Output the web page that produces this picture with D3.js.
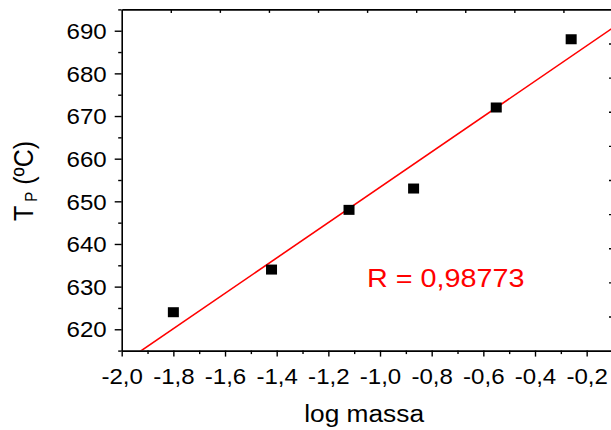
<!DOCTYPE html>
<html>
<head>
<meta charset="utf-8">
<script src="https://cdn.jsdelivr.net/npm/d3@7/dist/d3.min.js"></script>
<style>
  html, body { margin: 0; padding: 0; background: #fff; }
  svg { display: block; }
  text { font-family: "Liberation Sans", Arial, sans-serif; }
</style>
</head>
<body>
<svg id="chart" width="611" height="430"></svg>
<script>
// Peak temperature vs. log of sample mass
const logMassa = [-1.80, -1.42, -1.12, -0.87, -0.55, -0.26];
const tempPico = [624, 634, 648, 653, 672, 688];

const xTickValues = [-2.0, -1.8, -1.6, -1.4, -1.2, -1.0, -0.8, -0.6, -0.4, -0.2];
const xMinorValues = [-1.9, -1.7, -1.5, -1.3, -1.1, -0.9, -0.7, -0.5, -0.3, -0.1];
const yTickValues = [620, 630, 640, 650, 660, 670, 680, 690];
const yMinorValues = [615, 625, 635, 645, 655, 665, 675, 685, 695];
const xDomain = [-2.0, -0.1];
const yDomain = [615, 695];

const rValue = 0.98773;
const xTitle = "log massa";

const svg = d3.select("#chart");
const plotLeft = 121.7, plotRight = 612.5, plotTop = 9.4, plotBottom = 350.6;
const stretch = 1.12;

const x = d3.scaleLinear().domain(xDomain).range([plotLeft, plotRight]);
const y = d3.scaleLinear().domain(yDomain).range([plotBottom, plotTop]);

const locale = d3.formatLocale({ decimal: ",", thousands: ".", grouping: [3], currency: ["", ""], minus: "-" });
const fmt1 = locale.format(".1f");
const fmtR = locale.format(".5f");

// least-squares fit through the points
const mx = d3.mean(logMassa), my = d3.mean(tempPico);
const sxy = d3.sum(logMassa, (v, i) => (v - mx) * (tempPico[i] - my));
const sxx = d3.sum(logMassa, v => (v - mx) * (v - mx));
const slope = sxy / sxx;
const intercept = my - slope * mx;

svg.append("defs").append("clipPath").attr("id", "plotClip")
  .append("rect").attr("x", plotLeft).attr("y", plotTop)
  .attr("width", plotRight - plotLeft).attr("height", plotBottom - plotTop);

// regression line
const fitPts = xDomain.map(v => [v, intercept + slope * v]);
svg.append("path")
  .attr("clip-path", "url(#plotClip)")
  .attr("d", d3.line().x(d => x(d[0])).y(d => y(d[1]))(fitPts))
  .attr("fill", "none").attr("stroke", "#ff0000").attr("stroke-width", 1.6);

// data markers
const sq = 11, sqh = 10;
svg.append("g").selectAll("rect").data(logMassa).join("rect")
  .attr("x", d => x(d) - sq / 2)
  .attr("y", (d, i) => y(tempPico[i]) - sqh / 2)
  .attr("width", sq).attr("height", sqh)
  .attr("fill", "#000");

function styleAxis(g) {
  g.select(".domain").attr("stroke", "#000").attr("stroke-width", 1.6);
  g.selectAll(".tick line").attr("stroke", "#000").attr("stroke-width", 1.4);
}

// bottom axis, minor ticks
svg.append("g").attr("transform", `translate(0,${plotBottom})`)
  .call(d3.axisBottom(x).tickValues(xMinorValues).tickSize(3.5).tickFormat(""))
  .call(g => { g.select(".domain").remove(); g.selectAll(".tick line").attr("stroke", "#000").attr("stroke-width", 1.4); });

// bottom axis, major ticks + labels
const gx = svg.append("g").attr("transform", `translate(0,${plotBottom})`)
  .call(d3.axisBottom(x).tickValues(xTickValues).tickSize(6).tickSizeOuter(0).tickFormat(fmt1))
  .call(styleAxis);
gx.selectAll(".tick text")
  .attr("y", 0).attr("dy", 0)
  .attr("transform", `translate(0,33.5) scale(${stretch},1)`)
  .attr("font-size", 21.5).attr("fill", "#000");

// left axis, minor ticks
svg.append("g").attr("transform", `translate(${plotLeft},0)`)
  .call(d3.axisLeft(y).tickValues(yMinorValues).tickSize(3.5).tickFormat(""))
  .call(g => { g.select(".domain").remove(); g.selectAll(".tick line").attr("stroke", "#000").attr("stroke-width", 1.4); });

// left axis, major ticks + labels
const gy = svg.append("g").attr("transform", `translate(${plotLeft},0)`)
  .call(d3.axisLeft(y).tickValues(yTickValues).tickSize(7).tickSizeOuter(0).tickFormat(d3.format("d")))
  .call(styleAxis);
gy.selectAll(".tick text")
  .attr("x", 0).attr("dy", 0)
  .attr("transform", `translate(-15,7.7) scale(${stretch},1)`)
  .attr("font-size", 21.5).attr("fill", "#000");

// top and right frame axes with inward ticks
const xTop = d3.scaleLinear().domain([0, 10]).range([plotLeft, plotRight]);
const yRight = d3.scaleLinear().domain([0, 10]).range([plotTop, plotBottom]);
svg.append("g").attr("transform", `translate(0,${plotTop})`)
  .call(d3.axisTop(xTop).tickValues(d3.range(1, 10)).tickSize(-3.5).tickSizeOuter(0).tickFormat(""))
  .call(styleAxis);
svg.append("g").attr("transform", `translate(${plotRight},0)`)
  .call(d3.axisRight(yRight).tickValues(d3.range(1, 10)).tickSize(-3.5).tickSizeOuter(0).tickFormat(""))
  .call(styleAxis);

// axis titles
svg.append("text")
  .attr("transform", `translate(${(plotLeft + plotRight) / 2 - 3},422) scale(${stretch},1)`)
  .attr("text-anchor", "middle").attr("font-size", 23.5).attr("fill", "#000")
  .text(xTitle);

const yTitle = svg.append("text")
  .attr("transform", `translate(33,${(plotTop + plotBottom) / 2 + 1}) rotate(-90) scale(1,${stretch})`)
  .attr("text-anchor", "middle").attr("font-size", 25).attr("fill", "#000");
yTitle.append("tspan").text("T");
yTitle.append("tspan").attr("font-size", 15).attr("dx", 4).attr("dy", 4).text("P");
yTitle.append("tspan").attr("dy", -4).text(" (ºC)");

// correlation coefficient
svg.append("text")
  .attr("transform", `translate(367,287) scale(1.15,1)`)
  .attr("font-size", 25).attr("fill", "#ff0000")
  .text("R = " + fmtR(rValue));
</script>
</body>
</html>
